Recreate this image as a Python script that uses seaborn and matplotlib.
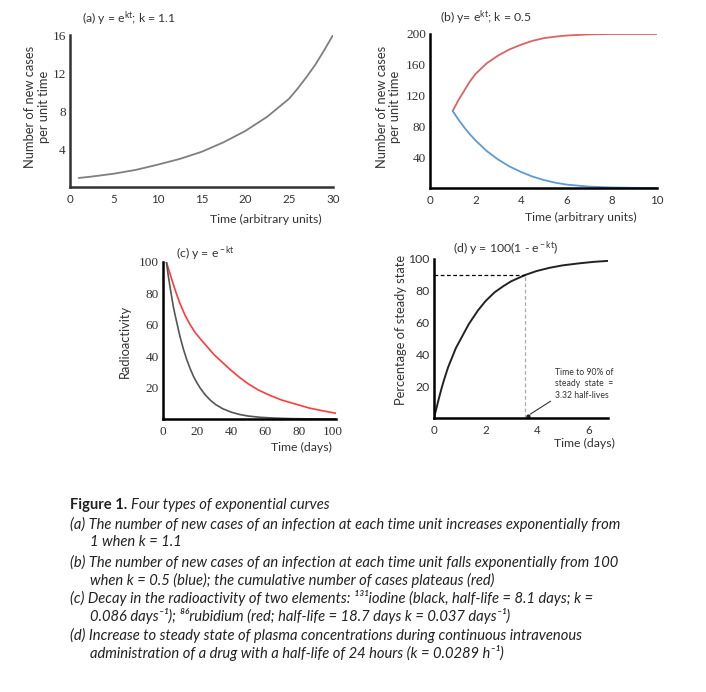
import matplotlib
matplotlib.use("Agg")
import matplotlib.pyplot as plt
import pandas as pd
import seaborn as sns

# --- dados ---
# (a) novos casos, k = 1.1
a_time = [1, 2.5, 5, 7.5, 10, 12.5, 15, 17.5, 20, 22.5, 25, 26, 27, 28, 29, 30]
a_cases = [0.95, 1.1, 1.4, 1.8, 2.35, 2.95, 3.7, 4.7, 5.9, 7.4, 9.3, 10.4, 11.6, 12.9, 14.4, 16.0]
a_xticks = [0, 5, 10, 15, 20, 25, 30]
a_yticks = [4, 8, 12, 16]

# (b) k = 0.5: novos casos (azul) e acumulado (vermelho)
b_time = [1, 1.25, 1.5, 1.75, 2, 2.5, 3, 3.5, 4, 4.5, 5, 5.5, 6, 7, 8, 9, 10]
b_new = [100, 89, 79, 70, 62, 48, 37, 28, 21, 15, 10.5, 7, 4.5, 1.8, 0.7, 0.2, 0]
b_cumulative = [100, 114, 126, 138, 148, 162, 172, 180, 186, 191, 194.5, 196.5, 198, 199.5, 200, 200, 200]
b_xticks = [0, 2, 4, 6, 8, 10]
b_yticks = [40, 80, 120, 160, 200]

# (c) decaimento: iodo-131 (preto) e rubidio-86 (vermelho)
c_time_iodine = [2, 3, 4, 5, 6, 7, 8, 10, 12, 14, 16, 18, 20, 22, 25, 28, 31, 35, 40, 45, 50, 57, 65, 75, 85, 102]
c_iodine = [100, 92, 85, 78.5, 72, 66.8, 62, 52.5, 44.5, 37.7, 32, 27, 23, 19.5, 15.2, 11.8, 9.2, 6.6, 4.4, 2.9, 1.9, 1.1, 0.6, 0.25, 0.1, 0]
c_time_rubidium = [2, 4, 6, 8, 10, 13, 16, 19, 22, 26, 30, 35, 39, 45, 50, 56, 63, 70, 78, 86, 94, 102]
c_rubidium = [100, 93, 86, 79.5, 73.5, 66, 60, 55, 51, 46, 41, 36, 32, 26.5, 22.5, 18.5, 15, 12, 9.5, 7, 5.2, 3.6]
c_xticks = [0, 20, 40, 60, 80, 100]
c_yticks = [20, 40, 60, 80, 100]

# (d) aproximacao ao estado estacionario
d_time = [0, 0.1, 0.2, 0.3, 0.4, 0.55, 0.7, 0.85, 1.05, 1.35, 1.7, 2.0, 2.35, 2.7, 3.0, 3.55, 4.0, 4.5, 5.0, 5.6, 6.2, 6.75]
d_percent = [0, 6.5, 13, 19, 24.5, 32, 38, 44, 50, 59, 67.5, 73.5, 79, 83, 86, 90, 92.5, 94.5, 96, 97.2, 98.2, 98.8]
d_time90 = 3.55
d_xticks = [0, 2, 4, 6]
d_yticks = [20, 40, 60, 80, 100]

caption_lines = [
    "(a) The number of new cases of an infection at each time unit increases exponentially from",
    "1 when k = 1.1",
    "(b) The number of new cases of an infection at each time unit falls exponentially from 100",
    "when k = 0.5 (blue); the cumulative number of cases plateaus (red)",
    "(c) Decay in the radioactivity of two elements: \u00b9\u00b3\u00b9iodine (black, half-life = 8.1 days; k =",
    "0.086 days\u207b\u00b9); \u2078\u2076rubidium (red; half-life = 18.7 days k = 0.037 days\u207b\u00b9)",
    "(d) Increase to steady state of plasma concentrations during continuous intravenous",
    "administration of a drug with a half-life of 24 hours (k = 0.0289 h\u207b\u00b9)",
]

sns.set_theme(style="white")
plt.rcParams['font.family'] = ['Lato', 'DejaVu Sans']
plt.rcParams['mathtext.fontset'] = 'custom'
plt.rcParams['mathtext.rm'] = 'Lato'
plt.rcParams['mathtext.it'] = 'Lato:italic'

W, H = 706, 692
fig = plt.figure(figsize=(W / 100, H / 100), dpi=100)
fig.patch.set_facecolor('white')


def box(x0, yt, x1, yb):
    return [x0 / W, 1 - yb / H, (x1 - x0) / W, (yb - yt) / H]


def ftext(x, y, s, **kw):
    return fig.text(x / W, 1 - y / H, s, **kw)


def style(ax, xlim, ylim, xticks, yticks, spine='black', serif_x=False):
    ax.set_xlim(*xlim)
    ax.set_ylim(*ylim)
    ax.set_xticks(xticks)
    ax.set_yticks(yticks)
    ax.set_xlabel('')
    ax.set_ylabel('')
    sns.despine(ax=ax)
    for s in ['left', 'bottom']:
        ax.spines[s].set_linewidth(1.8)
        ax.spines[s].set_color(spine)
    ax.tick_params(axis='x', length=0, pad=5, labelsize=8.3, colors='#333333')
    ax.tick_params(axis='y', length=0, pad=3, labelsize=9.5, colors='#333333')
    for lab in ax.get_yticklabels():
        lab.set_family('Liberation Serif')
    if serif_x:
        for lab in ax.get_xticklabels():
            lab.set_family('Liberation Serif')
            lab.set_fontsize(9.5)
    ax.patch.set_alpha(0)


TXT = '#333333'

# --- (a) ---
ax_a = fig.add_axes(box(70, 35, 333, 187))
sns.lineplot(x=a_time, y=a_cases, ax=ax_a, color='#7f7f7f', lw=1.3)
style(ax_a, (0, 30), (0, 16), a_xticks, a_yticks, spine='#333333')
ftext(82, 18, r"(a) y = e$^{\rm kt}$; k = 1.1", fontsize=8.8, va='center', color=TXT)
ftext(37, 107, "Number of new cases\nper unit time", fontsize=9.3, rotation=90,
      ha='center', va='center', color=TXT, linespacing=1.1)
ftext(266, 219, "Time (arbitrary units)", fontsize=8.8, ha='center', va='center', color=TXT)

# --- (b) ---
ax_b = fig.add_axes(box(430, 34, 657, 188))
df_b = pd.DataFrame({'time': b_time, 'new': b_new, 'cum': b_cumulative})
sns.lineplot(data=df_b, x='time', y='cum', ax=ax_b, color='#dd6262', lw=1.3)
sns.lineplot(data=df_b, x='time', y='new', ax=ax_b, color='#5b9bd5', lw=1.3)
style(ax_b, (0, 10), (0, 200), b_xticks, b_yticks)
ftext(440, 17, r"(b) y= e$^{\rm kt}$; k = 0.5", fontsize=8.8, va='center', color=TXT)
ftext(388, 107, "Number of new cases\nper unit time", fontsize=9.3, rotation=90,
      ha='center', va='center', color=TXT, linespacing=1.1)
ftext(581, 217, "Time (arbitrary units)", fontsize=8.8, ha='center', va='center', color=TXT)

# --- (c) ---
ax_c = fig.add_axes(box(163, 262, 336.4, 419))
sns.lineplot(x=c_time_rubidium, y=c_rubidium, ax=ax_c, color='#ff3b3b', lw=1.2)
sns.lineplot(x=c_time_iodine, y=c_iodine, ax=ax_c, color='#555555', lw=1.2)
style(ax_c, (0, 102), (0, 100), c_xticks, c_yticks, serif_x=True)
ftext(176, 253, r"(c) y = e$^{\rm -kt}$", fontsize=8.8, va='center', color=TXT)
ftext(125, 341, "Radioactivity", fontsize=9.3, rotation=90,
      ha='center', va='center', color=TXT)
ftext(301, 447, "Time (days)", fontsize=8.8, ha='center', va='center', color=TXT)

# --- (d) ---
ax_d = fig.add_axes(box(434, 259, 608, 418))
sns.lineplot(x=d_time, y=d_percent, ax=ax_d, color='#222222', lw=1.4)
ax_d.plot([0, d_time90], [90, 90], color='black', lw=0.9, ls=(0, (3, 2)))
ax_d.plot([d_time90, d_time90], [0, 90], color='#aaaaaa', lw=0.9, ls=(0, (3, 2)))
ax_d.annotate("", xy=(3.65, 1.5), xytext=(4.62, 11.5),
              arrowprops=dict(arrowstyle='-', color='#333333', lw=0.8))
ax_d.plot([3.65], [1.5], marker='o', ms=2, color='#222222')
ax_d.text(4.72, 21.5, "Time to 90% of\nsteady  state  =\n3.32 half-lives", fontsize=6.2,
          ha='left', va='center', color=TXT, linespacing=1.4)
style(ax_d, (0, 6.76), (0, 100), d_xticks, d_yticks)
for lab in ax_d.get_yticklabels():
    lab.set_family(['Lato', 'DejaVu Sans'])
    lab.set_fontsize(8.8)
ftext(453, 248, r"(d) y = 100(1 - e$^{\rm -kt}$)", fontsize=8.8, va='center', color=TXT)
ftext(401, 330, "Percentage of steady state", fontsize=9.3, rotation=90,
      ha='center', va='center', color=TXT)
ftext(584, 443, "Time (days)", fontsize=8.8, ha='center', va='center', color=TXT)

# --- legenda da figura ---
CAP = 10.6
t_fig = ftext(70, 505, "Figure 1.", fontsize=CAP, fontweight='bold', va='center', color='#222222')
fig.canvas.draw()
x_end = t_fig.get_window_extent().x1
fig.text(x_end / W + 4 / W, 1 - 505 / H, "Four types of exponential curves", fontsize=CAP,
         style='italic', va='center', color='#222222')
ys = [524, 542, 562, 580, 598, 616, 635, 653]
for y, line in zip(ys, caption_lines):
    x = 70 if line.startswith('(') else 90
    ftext(x, y, line, fontsize=CAP, style='italic', va='center', color='#222222')

fig.savefig('out.png', dpi=100, facecolor='white')
